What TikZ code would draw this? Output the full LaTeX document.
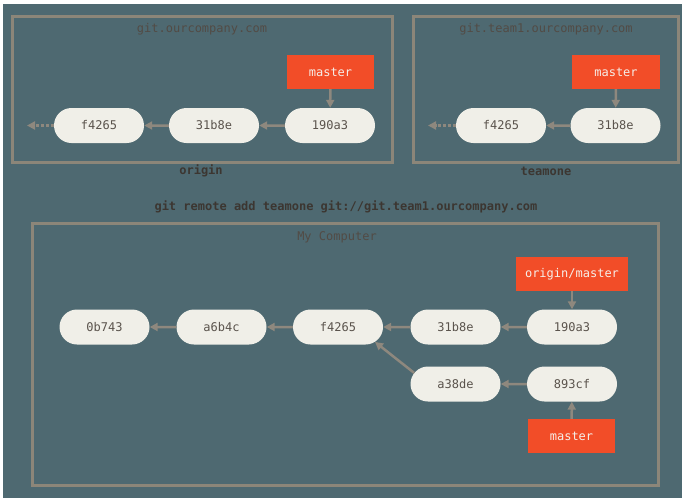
\documentclass[tikz,border=0pt]{standalone}
\usepackage{fontspec}
\setmonofont{DejaVu Sans Mono}
\usetikzlibrary{shapes.misc,arrows.meta}
\definecolor{bgteal}{HTML}{4E6971}
\definecolor{boxline}{HTML}{8C8679}
\definecolor{cfill}{HTML}{F0EFE8}
\definecolor{ctext}{HTML}{5A534C}
\definecolor{gitorange}{HTML}{F24D28}
\definecolor{ltext}{HTML}{F6EEE8}
\definecolor{arrowc}{HTML}{8E887E}
\definecolor{titlec}{HTML}{524B45}
\definecolor{cmdc}{HTML}{3C3631}
\tikzset{
  commit/.style={rounded rectangle, fill=cfill, minimum width=90pt, minimum height=35pt, inner sep=0pt, text=ctext, font=\ttfamily\fontsize{12}{13}\selectfont},
  reflabel/.style={rectangle, fill=gitorange, minimum height=34pt, inner sep=0pt, text=ltext, font=\ttfamily\fontsize{12}{13}\selectfont},
  repobox/.style={draw=boxline, line width=3pt},
  boxtitle/.style={text=titlec, font=\ttfamily\fontsize{12}{13}\selectfont},
  repoName/.style={text=cmdc, font=\ttfamily\bfseries\fontsize{12}{13}\selectfont},
  parent/.style={draw=arrowc, line width=2.5pt, -{Triangle[length=8pt,width=8pt]}},
  parentdash/.style={parent, dash pattern=on 3pt off 2pt},
}
\begin{document}
\begin{tikzpicture}[x=1pt,y=-1pt]
\useasboundingbox (0,0) rectangle (682,498);
\fill[white] (0,0) rectangle (682,498);
\fill[bgteal] (3,4) rectangle (682,498);

% origin repo
\draw[repobox] (12,16) rectangle (392,162);
\node[boxtitle] (t1) at (202,29) {git.ourcompany.com};
\node[repoName] (n1) at (201,171) {origin};
\node[reflabel, minimum width=87pt] (om) at (330.5,72) {master};
\node[commit] (o190) at (330,125.5) {190a3};
\node[commit] (o31) at (214,125.5) {31b8e};
\node[commit] (of42) at (99,125.5) {f4265};
\coordinate (oend) at (27,125.5);
\draw[parent] (om) -- (o190);
\draw[parent] (o190) -- (o31);
\draw[parent] (o31) -- (of42);
\draw[parentdash] (of42) -- (oend);

% teamone repo
\draw[repobox] (413,16) rectangle (678,162);
\node[boxtitle] (t2) at (546,29) {git.team1.ourcompany.com};
\node[repoName] (n2) at (546,171) {teamone};
\node[reflabel, minimum width=88pt] (tm) at (616,72) {master};
\node[commit] (t31) at (615.5,125.5) {31b8e};
\node[commit] (tf42) at (501,125.5) {f4265};
\coordinate (tend) at (428,125.5);
\draw[parent] (tm) -- (t31);
\draw[parent] (t31) -- (tf42);
\draw[parentdash] (tf42) -- (tend);

% command
\node[repoName] (cmd) at (346,207) {git remote add teamone git://git.team1.ourcompany.com};

% my computer
\draw[repobox] (32,223) rectangle (658,485);
\node[boxtitle] (t3) at (337,237) {My Computer};
\node[reflabel, minimum width=112pt] (lom) at (572,274) {origin/master};
\node[commit] (l0b) at (104.5,327) {0b743};
\node[commit] (la6) at (221.5,327) {a6b4c};
\node[commit] (lf4) at (338,327) {f4265};
\node[commit] (l31) at (455.5,327) {31b8e};
\node[commit] (l19) at (572,327) {190a3};
\node[commit] (la3) at (455.5,384) {a38de};
\node[commit] (l89) at (572,384) {893cf};
\node[reflabel, minimum width=87pt] (lm) at (571.5,436) {master};
\draw[parent] (lom) -- (l19);
\draw[parent] (l19) -- (l31);
\draw[parent] (l31) -- (lf4);
\draw[parent] (lf4) -- (la6);
\draw[parent] (la6) -- (l0b);
\draw[parent] (l89) -- (la3);
\draw[parent] (la3.165) -- (lf4.-22);
\draw[parent] (lm) -- (l89);
\end{tikzpicture}
\end{document}
